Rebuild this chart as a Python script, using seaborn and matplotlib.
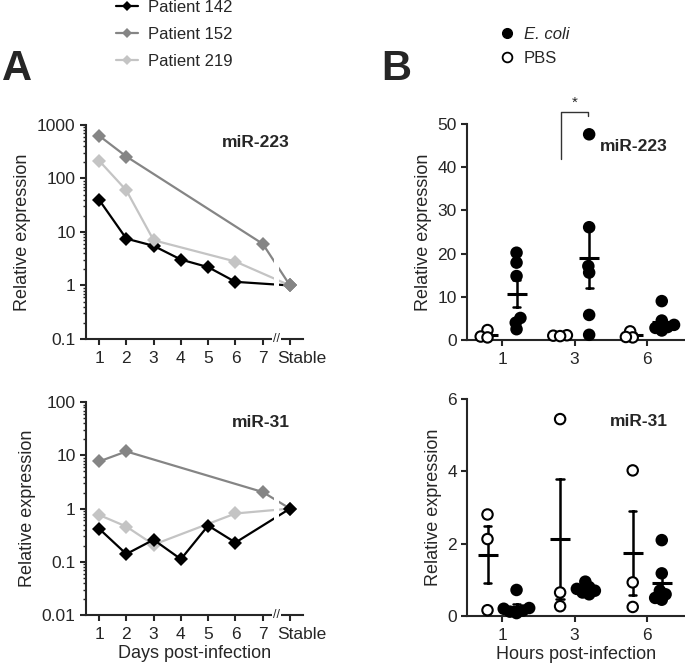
import pandas as pd
import seaborn as sns
import matplotlib.pyplot as plt
from matplotlib.lines import Line2D
from matplotlib.transforms import ScaledTranslation

# ---- Panel A data (log scale, "Stable" drawn at x = 8) ----
p142_days = [1, 2, 3, 4, 5, 6, 8]
p152_days = [1, 2, 7, 8]
p219_days = [1, 2, 3, 6, 8]

mir223_p142 = [40, 7.5, 5.5, 3.05, 2.2, 1.17, 1.0]
mir223_p152 = [630, 257, 6.0, 1.0]
mir223_p219 = [215, 60, 7.0, 2.8, 1.0]

mir31_p142 = [0.42, 0.14, 0.26, 0.112, 0.48, 0.23, 1.0]
mir31_p152 = [7.7, 11.9, 2.05, 1.0]
mir31_p219 = [0.76, 0.46, 0.21, 0.81, 1.0]

patients = ["Patient 142", "Patient 152", "Patient 219"]
patient_colors = ["#000000", "#858585", "#c4c4c4"]
day_ticks = [1, 2, 3, 4, 5, 6, 7, 8]
day_labels = ["1", "2", "3", "4", "5", "6", "7", "Stable"]

# ---- Panel B data ----
hours = ["1", "3", "6"]
mir223_ecoli = {"1": [17.9, 20.2, 14.8, 5.1, 2.5, 4.0],
                "3": [47.6, 26.1, 17.1, 15.6, 5.8, 1.2],
                "6": [9.0, 4.5, 3.5, 2.8, 2.2, 3.0]}
mir223_pbs = {"1": [2.3, 0.8, 0.6],
              "3": [1.0, 1.1, 0.9],
              "6": [2.0, 0.6, 0.7]}
mir31_ecoli = {"1": [0.72, 0.22, 0.12, 0.08, 0.15, 0.2],
               "3": [0.95, 0.8, 0.7, 0.65, 0.6, 0.75],
               "6": [2.1, 1.18, 0.7, 0.6, 0.45, 0.5]}
mir31_pbs = {"1": [2.81, 2.13, 0.16],
             "3": [5.45, 0.27, 0.65],
             "6": [4.03, 0.93, 0.25]}


def long_a(p142, p152, p219):
    rows = []
    for name, days, vals in zip(patients, [p142_days, p152_days, p219_days], [p142, p152, p219]):
        for d, v in zip(days, vals):
            rows.append({"day": d, "value": v, "patient": name})
    return pd.DataFrame(rows)


def long_b(ecoli, pbs):
    rows = []
    for h in hours:
        for v in pbs[h]:
            rows.append({"hour": h, "group": "PBS", "value": v})
        for v in ecoli[h]:
            rows.append({"hour": h, "group": "E. coli", "value": v})
    return pd.DataFrame(rows)


sns.set_style("ticks")
plt.rcParams["font.family"] = ["Liberation Sans", "DejaVu Sans"]
plt.rcParams["axes.linewidth"] = 1.5
plt.rcParams["xtick.major.width"] = 1.5
plt.rcParams["ytick.major.width"] = 1.5
plt.rcParams["xtick.major.size"] = 4
plt.rcParams["ytick.major.size"] = 4
plt.rcParams["ytick.minor.size"] = 2
plt.rcParams["ytick.minor.width"] = 1
plt.rcParams["xtick.labelsize"] = 12.5
plt.rcParams["ytick.labelsize"] = 12.5
plt.rcParams["axes.labelsize"] = 13

fig = plt.figure(figsize=(6.85, 6.71), dpi=100)
axA1 = fig.add_axes([0.1255, 0.4948, 0.317, 0.319])
axA2 = fig.add_axes([0.1255, 0.0835, 0.317, 0.317])
axB1 = fig.add_axes([0.682, 0.4933, 0.318, 0.322])
axB2 = fig.add_axes([0.682, 0.082, 0.318, 0.323])

palette_a = dict(zip(patients, patient_colors))


def draw_a(ax, df, order, yticks, ylabels, title, tx, ty):
    # order = drawing order (last one ends up on top)
    sns.lineplot(data=df, x="day", y="value", hue="patient", hue_order=order,
                 palette=palette_a, marker="D", markersize=7, markeredgewidth=0,
                 linewidth=1.6, sort=True, legend=False, ax=ax, zorder=2)
    ax.set_yscale("log")
    ax.set_ylim(yticks[0], yticks[-1])
    ax.set_yticks(yticks, ylabels)
    ax.set_xlim(0.52, 8.48)
    ax.set_xticks(day_ticks, day_labels)
    ax.set_ylabel("Relative expression", labelpad=4)
    ax.set_xlabel("")
    ax.tick_params(axis="x", pad=5)
    # "Stable" sits a little to the right of its tick, as in the original
    lab = ax.get_xticklabels()[-1]
    lab.set_transform(lab.get_transform() + ScaledTranslation(0.12, 0, fig.dpi_scale_trans))
    # break between day 7 and Stable
    ax.axvspan(7.42, 7.6, ymin=0.02, ymax=1, color="white", zorder=2.2, lw=0)
    ax.text(7.5, 0, "//", transform=ax.get_xaxis_transform(), ha="center", va="center",
            fontsize=9, bbox=dict(facecolor="white", edgecolor="none", pad=0.5), zorder=5,
            clip_on=False)
    ax.text(tx, ty, title, transform=ax.transAxes, fontsize=12.5, fontweight="bold",
            ha="left", va="center")
    sns.despine(ax=ax)


draw_a(axA1, long_a(mir223_p142, mir223_p152, mir223_p219),
       ["Patient 142", "Patient 219", "Patient 152"],
       [0.1, 1, 10, 100, 1000], ["0.1", "1", "10", "100", "1000"], "miR-223", 0.627, 0.916)
draw_a(axA2, long_a(mir31_p142, mir31_p152, mir31_p219),
       ["Patient 219", "Patient 152", "Patient 142"],
       [0.01, 0.1, 1, 10, 100], ["0.01", "0.1", "1", "10", "100"], "miR-31", 0.673, 0.907)
axA2.set_xlabel("Days post-infection", labelpad=2)

groups = ["PBS", "E. coli"]
swarm_colls = []


def draw_b(ax, df, ylim, yticks, title, tx, ty):
    sns.pointplot(data=df, x="hour", y="value", hue="group", hue_order=groups,
                  order=hours, palette=["black", "black"], errorbar="se", dodge=0.4,
                  markers="_", markersize=15, markeredgewidth=2.2, linestyle="none",
                  capsize=0.1, err_kws={"linewidth": 1.8}, legend=False, ax=ax, zorder=2)
    n0 = len(ax.collections)
    # swarm laid out with a small size so points overlap like the original
    sns.swarmplot(data=df, x="hour", y="value", hue="group", hue_order=groups, order=hours,
                  palette={"PBS": "white", "E. coli": "black"}, dodge=True, size=3.2,
                  edgecolor="black", linewidth=1.5, legend=False, ax=ax, zorder=3,
                  clip_on=False)
    swarm_colls.extend(ax.collections[n0:])
    ax.set_ylim(*ylim)
    ax.set_yticks(yticks)
    ax.set_xlim(-0.48, 2.52)
    ax.set_ylabel("Relative expression")
    ax.set_xlabel("")
    ax.tick_params(axis="x", pad=5)
    ax.text(tx, ty, title, transform=ax.transAxes, fontsize=12.5, fontweight="bold",
            ha="left", va="center")
    sns.despine(ax=ax)


draw_b(axB1, long_b(mir223_ecoli, mir223_pbs), (0, 50), [0, 10, 20, 30, 40, 50],
       "miR-223", 0.61, 0.895)
draw_b(axB2, long_b(mir31_ecoli, mir31_pbs), (0, 6), [0, 2, 4, 6],
       "miR-31", 0.656, 0.896)
axB2.set_xlabel("Hours post-infection", labelpad=2)

# significance bracket (3 h, PBS vs E. coli)
axB1.plot([0.81, 0.81, 1.19, 1.19], [42, 52.8, 52.8, 51.8], color="#333333", lw=1,
          clip_on=False)
axB1.text(1.0, 53.3, "*", ha="center", va="bottom", fontsize=11, clip_on=False)

# legends
hA = [Line2D([], [], color=c, marker="D", markersize=5, markeredgewidth=0, lw=1.6)
      for c in patient_colors]
fig.legend(hA, patients, loc="upper left", bbox_to_anchor=(0.148, 1.022), frameon=False,
           fontsize=12, handlelength=1.3, handletextpad=0.6, labelspacing=0.72)
hB = [Line2D([], [], ls="none", marker="o", markersize=7, color="black"),
      Line2D([], [], ls="none", marker="o", markersize=7, markerfacecolor="white",
             markeredgecolor="black", markeredgewidth=1.3)]
legB = fig.legend(hB, ["E. coli", "PBS"], loc="upper left", bbox_to_anchor=(0.706, 0.982),
                  frameon=False, fontsize=12, handlelength=1.0, handletextpad=0.5,
                  labelspacing=0.55)
legB.get_texts()[0].set_fontstyle("italic")

fig.text(0.003, 0.897, "A", fontsize=30, fontweight="bold", va="center", ha="left")
fig.text(0.557, 0.897, "B", fontsize=30, fontweight="bold", va="center", ha="left")

# fix the swarm layout, then enlarge the dots to the original size
fig.canvas.draw()
for c in swarm_colls:
    if "draw" in c.__dict__:
        del c.draw
    c.set_sizes([7.5 ** 2])

plt.savefig("out.png", dpi=100)
